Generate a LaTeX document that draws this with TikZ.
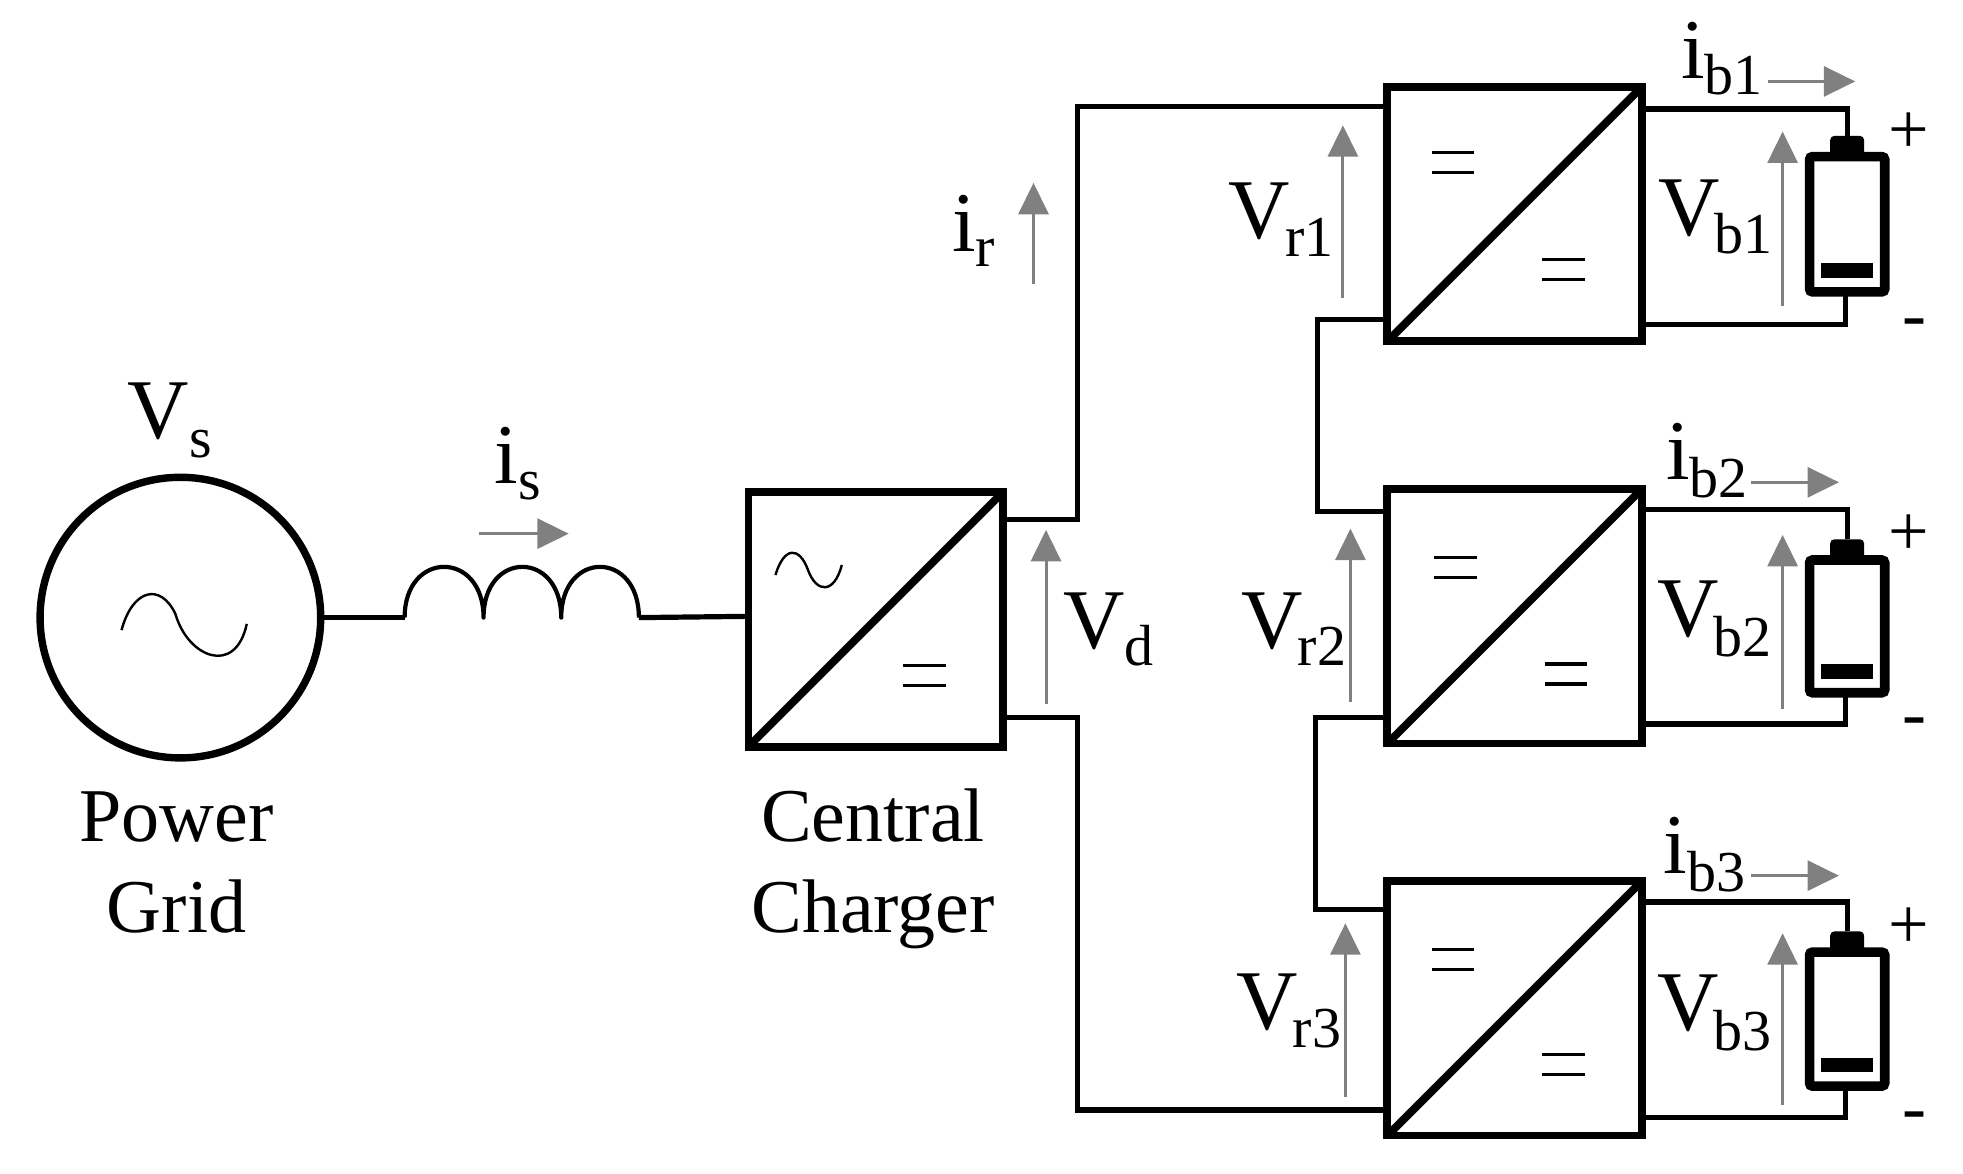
\documentclass[tikz,border=0pt]{standalone}
\usepackage{fontspec}
\setmainfont{Liberation Serif}
\usetikzlibrary{arrows.meta,calc}
\newcommand{\vlab}[3]{\fontsize{42.5pt}{42.5pt}\selectfont #1\kern-2.5pt\raisebox{-#3}{\fontsize{29pt}{29pt}\selectfont #2}}
\newcommand{\ilab}[3]{\fontsize{42.5pt}{42.5pt}\selectfont #1\raisebox{-#3}{\fontsize{29pt}{29pt}\selectfont #2}}
\definecolor{arrowgray}{HTML}{808080}
\tikzset{
  wire/.style={line width=2.6pt,line join=miter,line cap=butt},
  conv/.style={draw,line width=3.9pt,outer sep=0pt,inner sep=0pt,minimum width=203*0.6264pt,minimum height=203*0.6264pt},
  diag/.style={line width=3.9pt},
  thinsym/.style={line width=1.2pt},
  eqbar/.style={line width=1.6pt},
  garrow/.style={draw=arrowgray,line width=1.5pt,-{Triangle[length=15.7pt,width=15pt,fill=arrowgray]}},
  cellbody/.style={draw,line width=4.8pt,rounded corners=1.5pt,outer sep=0pt,inner sep=0pt,minimum width=60*0.6264pt},
  cellcap/.style={fill=black,rounded corners=2pt,inner sep=0pt,outer sep=0pt,minimum width=27*0.6264pt,minimum height=17*0.6264pt},
  cellbar/.style={fill=black,inner sep=0pt,outer sep=0pt,minimum width=41*0.6264pt,minimum height=11.5*0.6264pt},
  lab/.style={anchor=base west,inner sep=0pt,outer sep=0pt},
  captext/.style={anchor=base,inner sep=0pt,font=\fontsize{38pt}{38pt}\selectfont},
  sign/.style={inner sep=0pt,font=\fontsize{36pt}{36pt}\selectfont}
}
% converter block: name, centre x, centre y
\newcommand{\convbox}[3]{%
  \node[conv] (#1) at (#2,#3) {};
  \draw[diag] (#1.south west) -- (#1.north east);
}
% two short bars forming an equal sign
\newcommand{\eqsign}[3]{%
  \coordinate (#1a) at (#2-17,#3-8);
  \coordinate (#1b) at (#2+17,#3-8);
  \coordinate (#1c) at (#2-17,#3+8);
  \coordinate (#1d) at (#2+17,#3+8);
  \draw[eqbar] (#1a) -- (#1b);
  \draw[eqbar] (#1c) -- (#1d);
}
% grey arrow between two named free ends
\newcommand{\gar}[5]{%
  \coordinate (#1s) at (#2,#3);
  \coordinate (#1e) at (#4,#5);
  \draw[garrow] (#1s) -- (#1e);
}
% battery: name, top of body, bottom of body
\newcommand{\batt}[3]{%
  \node[cellbody,minimum height=(#3-#2)*0.6264pt] (#1) at (1474.5,{(#2+#3)/2}) {};
  \node[cellcap] (#1cap) at (1474.5,#2-8) {};
  \node[cellbar] (#1bar) at (1474.5,#3-17) {};
}
\begin{document}
\begin{tikzpicture}[x=0.6264pt,y=-0.6264pt]
\useasboundingbox (0,0) rectangle (1567,937);

% source
\node[draw,circle,line width=3.7pt,outer sep=0pt,inner sep=0pt,minimum size=224*0.6264pt] (grid) at (144,493) {};
\draw[thinsym] (97,503) .. controls (106,470) and (128,465) .. (140,490)
   .. controls (150,525) and (188,540) .. (197,498);
\node[lab] (vs) at (102,350) {\vlab{V}{\kern2.5pt s}{9.5pt}};
\node[lab] (is) at (395,386) {\ilab{i}{s}{8pt}};
\gar{isar}{382}{426}{454}{426}

% inductor
\coordinate (l0) at (323,493);
\coordinate (l1) at (386,493);
\coordinate (l2) at (448,493);
\coordinate (l3) at (510,493);
\draw[wire] (grid.east) -- (l0);
\draw[line width=2.1pt,line join=round]
  (l0) .. controls (323,439) and (386,439) .. (l1)
       .. controls (386,439) and (448,439) .. (l2)
       .. controls (448,439) and (510,439) .. (l3);

% central charger
\node[conv] (cc) at (699,494.5) {};
\draw[diag] (cc.south west) -- (cc.north east);
\coordinate (ccw) at (cc.west |- 0,492);
\draw[wire] (l3) -- (ccw);
\draw[thinsym] (619,459) .. controls (626,436) and (638,436) .. (645,455)
  .. controls (652,474) and (666,474) .. (672,451);
\eqsign{cceq}{738}{539}
\node[captext] (pg1) at (141,672) {Power};
\node[captext] (pg2) at (141,744) {Grid};
\node[captext] (cc1) at (697,672) {Central};
\node[captext] (cc2) at (697,744) {Charger};

% sub converters
\convbox{d1}{1209}{171}
\convbox{d2}{1209}{492}
\convbox{d3}{1209}{805}
\eqsign{e1a}{1160}{130}
\eqsign{e1b}{1248}{215}
\eqsign{e2a}{1162}{453}
\eqsign{e2b}{1250}{538}
\eqsign{e3a}{1160}{766}
\eqsign{e3b}{1248}{850}

% dc bus
\coordinate (ccp) at (cc.east |- 0,415);
\coordinate (ccn) at (cc.east |- 0,573);
\coordinate (d1p) at (d1.west |- 0,85);
\coordinate (d3n) at (d3.west |- 0,886);
\draw[wire] (ccp) -- (860,415) -- (860,85) -- (d1p);
\draw[wire] (ccn) -- (860,573) -- (860,886) -- (d3n);
% series links
\coordinate (d1n) at (d1.west |- 0,255);
\coordinate (d2p) at (d2.west |- 0,408);
\coordinate (d2n) at (d2.west |- 0,573);
\coordinate (d3p) at (d3.west |- 0,726);
\draw[wire] (d1n) -- (1052,255) -- (1052,408) -- (d2p);
\draw[wire] (d2n) -- (1050,573) -- (1050,726) -- (d3p);

% batteries
\batt{b1}{125}{233}
\batt{b2}{447}{553}
\batt{b3}{760}{867}
\coordinate (o1p) at (d1.east |- 0,87);
\coordinate (o1n) at (d1.east |- 0,259);
\coordinate (o2p) at (d2.east |- 0,407);
\coordinate (o2n) at (d2.east |- 0,578);
\coordinate (o3p) at (d3.east |- 0,720);
\coordinate (o3n) at (d3.east |- 0,892);
\draw[wire] (o1p) -- (1475,87) -- (b1cap.north -| 1475,0);
\draw[wire] (o1n) -- (1473,259) -- (b1.south -| 1473,0);
\draw[wire] (o2p) -- (1475,407) -- (b2cap.north -| 1475,0);
\draw[wire] (o2n) -- (1473,578) -- (b2.south -| 1473,0);
\draw[wire] (o3p) -- (1475,720) -- (b3cap.north -| 1475,0);
\draw[wire] (o3n) -- (1473,892) -- (b3.south -| 1473,0);

% measurement arrows
\gar{ira}{825}{227}{825}{146}
\gar{vda}{835}{562}{835}{423}
\gar{vr1a}{1072}{238}{1072}{100}
\gar{vr2a}{1078}{560}{1078}{422}
\gar{vr3a}{1074}{876}{1074}{737}
\gar{vb1a}{1423}{244}{1423}{105}
\gar{vb2a}{1423}{566}{1423}{427}
\gar{vb3a}{1423}{882}{1423}{745}
\gar{ib1a}{1411}{65}{1481}{65}
\gar{ib2a}{1398}{385}{1468}{385}
\gar{ib3a}{1398}{699}{1468}{699}

% labels
\node[lab] (ir) at (760,201) {\ilab{i}{r}{7.5pt}};
\node[lab] (vd) at (849,518) {\vlab{V}{\kern2.5pt d}{8.5pt}};
\node[lab] (vr1) at (981,190) {\vlab{V}{r1}{9pt}};
\node[lab] (vr2) at (991,518) {\vlab{V}{r2}{8.5pt}};
\node[lab] (vr3) at (987,822) {\vlab{V}{r3}{9pt}};
\node[lab] (vb1) at (1324,188) {\vlab{V}{b1}{9pt}};
\node[lab] (vb2) at (1323,508) {\vlab{V}{b2}{10pt}};
\node[lab] (vb3) at (1323,823) {\vlab{V}{b3}{10pt}};
\node[lab] (ib1) at (1342,63) {\ilab{i}{b1}{8pt}};
\node[lab] (ib2) at (1330,383) {\ilab{i}{b2}{9pt}};
\node[lab] (ib3) at (1328,697) {\ilab{i}{b3}{9pt}};

\node[sign] (p1) at (1524,106) {+};
\node[sign] (p2) at (1524,427) {+};
\node[sign] (p3) at (1524,741) {+};
\node[sign] (m1) at (1528,262) {-};
\node[sign] (m2) at (1528,581) {-};
\node[sign] (m3) at (1528,895) {-};
\end{tikzpicture}
\end{document}
